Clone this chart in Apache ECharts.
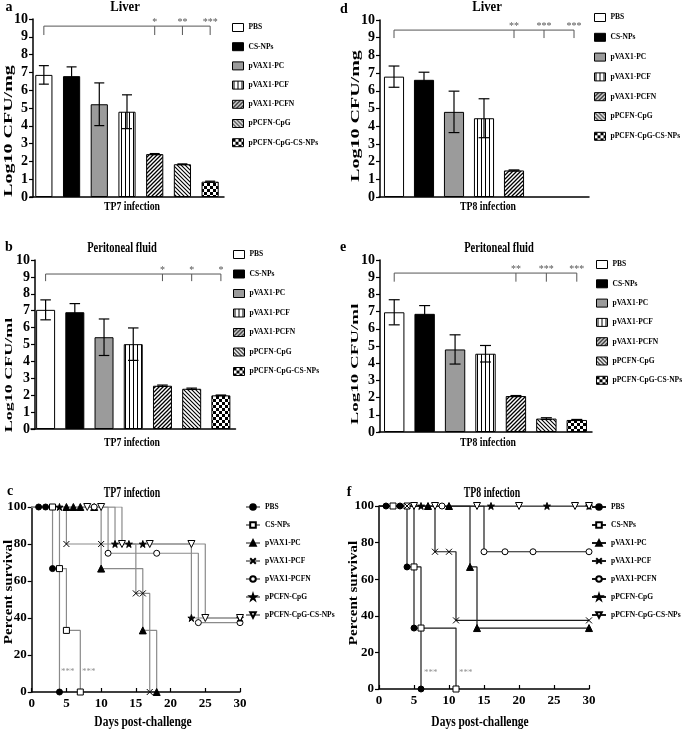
<!DOCTYPE html>
<html>
<head>
<meta charset="utf-8">
<script src="https://cdn.jsdelivr.net/npm/echarts@6/dist/echarts.min.js"></script>
<style>
html,body{margin:0;padding:0;background:#fff;width:685px;height:731px;overflow:hidden}
.p{position:absolute}
</style>
</head>
<body>
<div id="pa" class="p" style="left:0;top:0;width:340px;height:222px"></div>
<div id="pd" class="p" style="left:340px;top:0;width:345px;height:222px"></div>
<div id="pb" class="p" style="left:0;top:222px;width:340px;height:230px"></div>
<div id="pe" class="p" style="left:340px;top:222px;width:345px;height:230px"></div>
<div id="pc" class="p" style="left:0;top:452px;width:340px;height:279px"></div>
<div id="pf" class="p" style="left:340px;top:452px;width:345px;height:279px"></div>
<script>
const FONT = "'Liberation Serif','Times New Roman',serif";

// ---------- data ----------
const groups = ['PBS','CS-NPs','pVAX1-PC','pVAX1-PCF','pVAX1-PCFN','pPCFN-CpG','pPCFN-CpG-CS-NPs'];

// a: TP7 liver
const liverTP7    = [6.86, 6.79, 5.21, 4.79, 2.41, 1.84, 0.86];
const liverTP7Err = [0.52, 0.52, 1.20, 0.95, 0.03, 0.02, 0.03];
// b: TP7 peritoneal fluid
const peritTP7    = [7.05, 6.91, 5.43, 5.02, 2.56, 2.38, 1.99];
const peritTP7Err = [0.59, 0.51, 1.08, 0.96, 0.04, 0.04, 0.02];
// d: TP8 liver
const liverTP8    = [6.80, 6.62, 4.81, 4.45, 1.50, null, null];
const liverTP8Err = [0.60, 0.43, 1.17, 1.10, 0.03, null, null];
// e: TP8 peritoneal fluid
const peritTP8    = [6.96, 6.87, 4.80, 4.55, 2.09, 0.78, 0.70];
const peritTP8Err = [0.73, 0.48, 0.85, 0.48, 0.03, 0.05, 0.03];

const barTicks = [0,1,2,3,4,5,6,7,8,9,10];

// significance brackets: compared bars, labels, [bracket level, drop level]
const sigTargets = [4, 5, 6];
const sigLiverTP7 = ['*','**','***'];
const sigPeritTP7 = ['*','*','*'];
const sigLiverTP8 = ['**','***','***'];
const sigPeritTP8 = ['**','***','***'];
const brLiverTP7 = [9.6, 9.1];
const brPeritTP7 = [9.17, 8.75];
const brLiverTP8 = [9.43, 8.98];
const brPeritTP8 = [9.24, 8.74];

// survival curves [day, percent survival], one array per group
const survTP7 = [
  [[0,100],[1,100],[2,100],[3,66.7],[4,0]],
  [[0,100],[3,100],[4,66.7],[5,33.3],[7,0]],
  [[0,100],[5,100],[6,100],[7,100],[9,100],[10,66.7],[16,33.3],[18,0]],
  [[0,100],[5,80],[10,80],[15,53.3],[16,53.3],[17,0]],
  [[0,100],[9,100],[11,75],[18,75],[24,37.5],[30,37.5]],
  [[0,100],[4,100],[12,80],[14,80],[16,80],[23,40],[30,40]],
  [[0,100],[8,100],[10,100],[13,80],[17,80],[23,80],[25,40],[30,40]]
];
const survTP8 = [
  [[0,100],[1,100],[3,100],[4,66.7],[5,33.3],[6,0]],
  [[0,100],[2,100],[4,100],[5,66.7],[6,33.3],[11,0]],
  [[0,100],[7,100],[10,100],[13,66.7],[14,33.3],[30,33.3]],
  [[0,100],[4,100],[8,75],[10,75],[11,37.5],[30,37.5]],
  [[0,100],[9,100],[15,75],[18,75],[22,75],[30,75]],
  [[0,100],[6,100],[16,100],[24,100],[30,100]],
  [[0,100],[5,100],[8,100],[14,100],[20,100],[28,100],[30,100]]
];
const survSigTP7 = [[5.2, 11], [8.2, 11]];
const survSigTP8 = [[7.4, 9], [12.4, 9]];
const dayTicks = [0,5,10,15,20,25,30];
const pctTicks = [0,20,40,60,80,100];

// ---------- fills ----------
function pat(w, h, draw){
  const c = document.createElement('canvas'); c.width = w; c.height = h;
  const g = c.getContext('2d'); g.fillStyle = '#fff'; g.fillRect(0,0,w,h);
  g.strokeStyle = '#000'; g.fillStyle = '#000'; draw(g);
  return {image: c, repeat: 'repeat'};
}
const stripes = pat(4,4,g=>{ g.fillRect(1,0,1,4); });
const hatchF = pat(4,4,g=>{ g.lineWidth=1.3; g.beginPath(); g.moveTo(-1,5); g.lineTo(5,-1); g.moveTo(-1,1); g.lineTo(1,-1); g.moveTo(3,5); g.lineTo(5,3); g.stroke(); });
const hatchB = pat(4,4,g=>{ g.lineWidth=1.1; g.beginPath(); g.moveTo(-1,-1); g.lineTo(5,5); g.moveTo(3,-1); g.lineTo(5,1); g.moveTo(-1,3); g.lineTo(1,5); g.stroke(); });
const checker = pat(6,6,g=>{ g.fillRect(0,0,3,3); g.fillRect(3,3,3,3); });
const fills = ['#fff', '#000', '#9b9b9b', stripes, hatchF, hatchB, checker];

const STAR = 'path://M5,0L6.2,3.6L10,3.6L6.9,5.8L8.1,9.5L5,7.2L1.9,9.5L3.1,5.8L0,3.6L3.8,3.6Z';
const SYM = [
  {symbol:'circle', size:6, fill:'#000'},
  {symbol:'rect', size:6, fill:'#fff'},
  {symbol:'triangle', size:7, fill:'#000'},
  {symbol:'path://M0,0L10,10M10,0L0,10', size:6, fill:'#000'},
  {symbol:'circle', size:6, fill:'#fff'},
  {symbol:STAR, size:7, fill:'#000'},
  {symbol:'path://M0,0L10,0L5,9Z', size:7, fill:'#fff'}
];

// ---------- helpers ----------
function txt(R, x, y, text, size, o){
  o = o || {};
  return {type:'text', x: x - R.x, y: y - R.y, rotation: o.rot || 0,
    scaleX: o.sx || 1, scaleY: o.sy || 1, z: 10,
    style:{text, fontSize:size, fontWeight:'bold', fontFamily:FONT, fill:'#000',
      align:'center', verticalAlign:'middle', textAlign:'center', textVerticalAlign:'middle'}};
}
function errRender(params, api){
  const x = api.value(0);
  const lo = api.coord([x, api.value(1)]), hi = api.coord([x, api.value(2)]);
  const hw = api.size([1,0])[0] * 0.18;
  const st = {stroke:'#000', lineWidth:1.2};
  return {type:'group', children:[
    {type:'line', shape:{x1:lo[0],y1:lo[1],x2:hi[0],y2:hi[1]}, style:st},
    {type:'line', shape:{x1:hi[0]-hw,y1:hi[1],x2:hi[0]+hw,y2:hi[1]}, style:st},
    {type:'line', shape:{x1:lo[0]-hw,y1:lo[1],x2:lo[0]+hw,y2:lo[1]}, style:st}
  ]};
}
function bracketRender(labels, color){
  return function(params, api){
    const lvl = api.value(1), drop = api.value(2);
    const idx = [0].concat(sigTargets);
    const xs = idx.map(i => api.coord([i, lvl])[0]);
    const yTop = api.coord([0, lvl])[1], yDrop = api.coord([0, drop])[1];
    const st = {stroke:color, lineWidth:1};
    const ch = [{type:'line', shape:{x1:xs[0], y1:yTop, x2:xs[xs.length-1], y2:yTop}, style:st}];
    xs.forEach(x => ch.push({type:'line', shape:{x1:x, y1:yTop, x2:x, y2:yDrop}, style:st}));
    sigTargets.forEach((t,k) => ch.push({type:'text', x: xs[k+1], y: yTop + 1,
      style:{text:labels[k], fill:color, fontSize:10, fontFamily:FONT,
        align:'center', verticalAlign:'bottom', textAlign:'center', textVerticalAlign:'bottom'}}));
    return {type:'group', children: ch};
  };
}
const axisLine = {show:true, lineStyle:{color:'#000', width:1.5}};
const tickLabel = (size, m) => ({fontSize:size, fontWeight:'bold', fontFamily:FONT, color:'#000', margin:m});

function barOption(R, c){
  const series = groups.map((g,i) => ({
    type:'bar', name:g, barWidth:c.barWidth, barGap:'-100%',
    data: c.values.map((v,j) => (j === i && v != null) ? v : '-'),
    itemStyle:{color: fills[i], borderColor:'#000', borderWidth:1}, z:2
  }));
  series.push({type:'custom', name:'err', renderItem: errRender, z:5, encode:{x:0, y:[1,2]},
    data: c.values.map((v,j) => v == null ? null : [j, v - c.err[j], v + c.err[j]]).filter(Boolean)});
  series.push({type:'custom', name:'sig', renderItem: bracketRender(c.labels, '#555'), z:6, encode:{x:0, y:[1,2]},
    data: [[0, c.bracket[0], c.bracket[1]]]});
  return {
    animation:false,
    grid:{left:c.grid[0]-R.x, top:c.grid[1]-R.y, width:c.grid[2], height:c.grid[3], containLabel:false, outerBoundsMode:'none'},
    xAxis:{type:'category', data:groups, axisLabel:{show:false}, axisTick:{show:false}, axisLine, splitLine:{show:false}},
    yAxis:{type:'value', min:barTicks[0], max:barTicks[barTicks.length-1], interval:1, offset:c.yOff,
      axisLine, splitLine:{show:false},
      axisTick:{show:true, length:4, lineStyle:{color:'#000', width:1.2}},
      axisLabel: tickLabel(14, 5)},
    legend:{data:groups, orient:'vertical', left:c.leg[0]-R.x, top:c.leg[1]-R.y, padding:0,
      itemWidth:11, itemHeight:8, itemGap:c.leg[2], icon:'rect', selectedMode:false,
      itemStyle:{borderColor:'#000', borderWidth:1},
      textStyle:{fontSize:7.5, fontWeight:'bold', fontFamily:FONT, color:'#000'}},
    graphic: c.texts,
    series
  };
}

function survOption(R, c){
  const series = groups.map((g,i) => ({
    type:'line', name:g, step:'end', showAllSymbol:true,
    data: c.curves[i].map((p,k) => k === 0 ? {value:p, symbol:'none'} : p),
    symbol: SYM[i].symbol, symbolSize: SYM[i].size,
    itemStyle:{color: SYM[i].fill, borderColor:'#000', borderWidth:1},
    lineStyle:{color: c.lineColor, width:1.2}, z:3
  }));
  series.push({type:'scatter', name:'sig', data:c.sig, symbolSize:1, itemStyle:{color:'rgba(0,0,0,0)'}, silent:true,
    label:{show:true, position:'inside', formatter:'***', color:'#777', fontSize:9, fontFamily:FONT}});
  return {
    animation:false,
    grid:{left:c.grid[0]-R.x, top:c.grid[1]-R.y, width:c.grid[2], height:c.grid[3], containLabel:false, outerBoundsMode:'none'},
    xAxis:{type:'value', min:dayTicks[0], max:dayTicks[dayTicks.length-1], interval:5, axisLine, splitLine:{show:false},
      axisTick:{show:true, inside:true, length:4, lineStyle:{color:'#000', width:1.2}},
      axisLabel: tickLabel(13, 5)},
    yAxis:{type:'value', min:pctTicks[0], max:pctTicks[pctTicks.length-1], interval:20, axisLine, splitLine:{show:false},
      axisTick:{show:true, length:4, lineStyle:{color:'#000', width:1.2}},
      axisLabel: tickLabel(13, 5)},
    legend:{data:groups, orient:'vertical', left:c.leg[0]-R.x, top:c.leg[1]-R.y, padding:0,
      itemWidth:14, itemHeight:7, itemGap:10, selectedMode:false,
      textStyle:{fontSize:7.5, fontWeight:'bold', fontFamily:FONT, color:'#000'}},
    graphic: c.texts,
    series
  };
}

function mount(id, R, opt){
  const ch = echarts.init(document.getElementById(id), null, {renderer:'canvas', width:R.w, height:R.h});
  ch.setOption(opt);
}

// ---------- panels ----------
const RA = {x:0, y:0, w:340, h:222};
mount('pa', RA, barOption(RA, {
  values: liverTP7, err: liverTP7Err, labels: sigLiverTP7, bracket: brLiverTP7,
  grid: [30, 19, 194, 178], yOff: -3, barWidth: '62%', leg: [232, 23, 10.2],
  texts: [txt(RA, 9, 7, 'a', 14), txt(RA, 125, 7, 'Liver', 15, {sx:0.85}),
          txt(RA, 132, 207, 'TP7 infection', 13, {sx:0.75}),
          txt(RA, 9, 131, 'Log10 CFU/mg', 20, {rot:Math.PI/2, sy:0.6})]
}));

const RD = {x:340, y:0, w:345, h:222};
mount('pd', RD, barOption(RD, {
  values: liverTP8, err: liverTP8Err, labels: sigLiverTP8, bracket: brLiverTP8,
  grid: [379, 20, 210, 177], yOff: -1, barWidth: '67%', leg: [594, 13, 10.8],
  texts: [txt(RD, 344, 9, 'd', 14), txt(RD, 487, 7, 'Liver', 15, {sx:0.85}),
          txt(RD, 488, 207, 'TP8 infection', 13, {sx:0.75}),
          txt(RD, 356, 116, 'Log10 CFU/mg', 20, {rot:Math.PI/2, sy:0.6})]
}));

const RB = {x:0, y:222, w:340, h:230};
mount('pb', RB, barOption(RB, {
  values: peritTP7, err: peritTP7Err, labels: sigPeritTP7, bracket: brPeritTP7,
  grid: [31, 260, 204.5, 169], yOff: -4, barWidth: '65%', leg: [233, 250, 10.5],
  texts: [txt(RB, 9, 247, 'b', 14), txt(RB, 122, 248, 'Peritoneal fluid', 14, {sx:0.75}),
          txt(RB, 132, 443, 'TP7 infection', 13, {sx:0.75}),
          txt(RB, 9, 375, 'Log10 CFU/ml', 18, {rot:Math.PI/2, sy:0.6})]
}));

const RE = {x:340, y:222, w:345, h:230};
mount('pe', RE, barOption(RE, {
  values: peritTP8, err: peritTP8Err, labels: sigPeritTP8, bracket: brPeritTP8,
  grid: [379, 260, 213, 172], yOff: -1, barWidth: '67%', leg: [596, 260, 10.3],
  texts: [txt(RE, 343, 247, 'e', 14), txt(RE, 499, 248, 'Peritoneal fluid', 14, {sx:0.75}),
          txt(RE, 488, 443, 'TP8 infection', 13, {sx:0.75}),
          txt(RE, 355, 364, 'Log10 CFU/ml', 19, {rot:Math.PI/2, sy:0.6})]
}));

const RC = {x:0, y:452, w:340, h:279};
mount('pc', RC, survOption(RC, {
  curves: survTP7, sig: survSigTP7, lineColor:'#8a8a8a',
  grid: [31.7, 507, 208.3, 185], leg: [245, 503],
  texts: [txt(RC, 10, 491, 'c', 14), txt(RC, 132, 493, 'TP7 infection', 14, {sx:0.7}),
          txt(RC, 143, 722, 'Days post-challenge', 14, {sx:0.82}),
          txt(RC, 9, 592, 'Percent survival', 15, {rot:Math.PI/2, sy:0.8})]
}));

const RF = {x:340, y:452, w:345, h:279};
mount('pf', RF, survOption(RF, {
  curves: survTP8, sig: survSigTP8, lineColor:'#1a1a1a',
  grid: [379, 506, 210, 183], leg: [591, 503],
  texts: [txt(RF, 349, 492, 'f', 14), txt(RF, 492, 493, 'TP8 infection', 14, {sx:0.7}),
          txt(RF, 480, 722, 'Days post-challenge', 14, {sx:0.82}),
          txt(RF, 354, 593, 'Percent survival', 15, {rot:Math.PI/2, sy:0.8})]
}));
</script>
</body>
</html>
